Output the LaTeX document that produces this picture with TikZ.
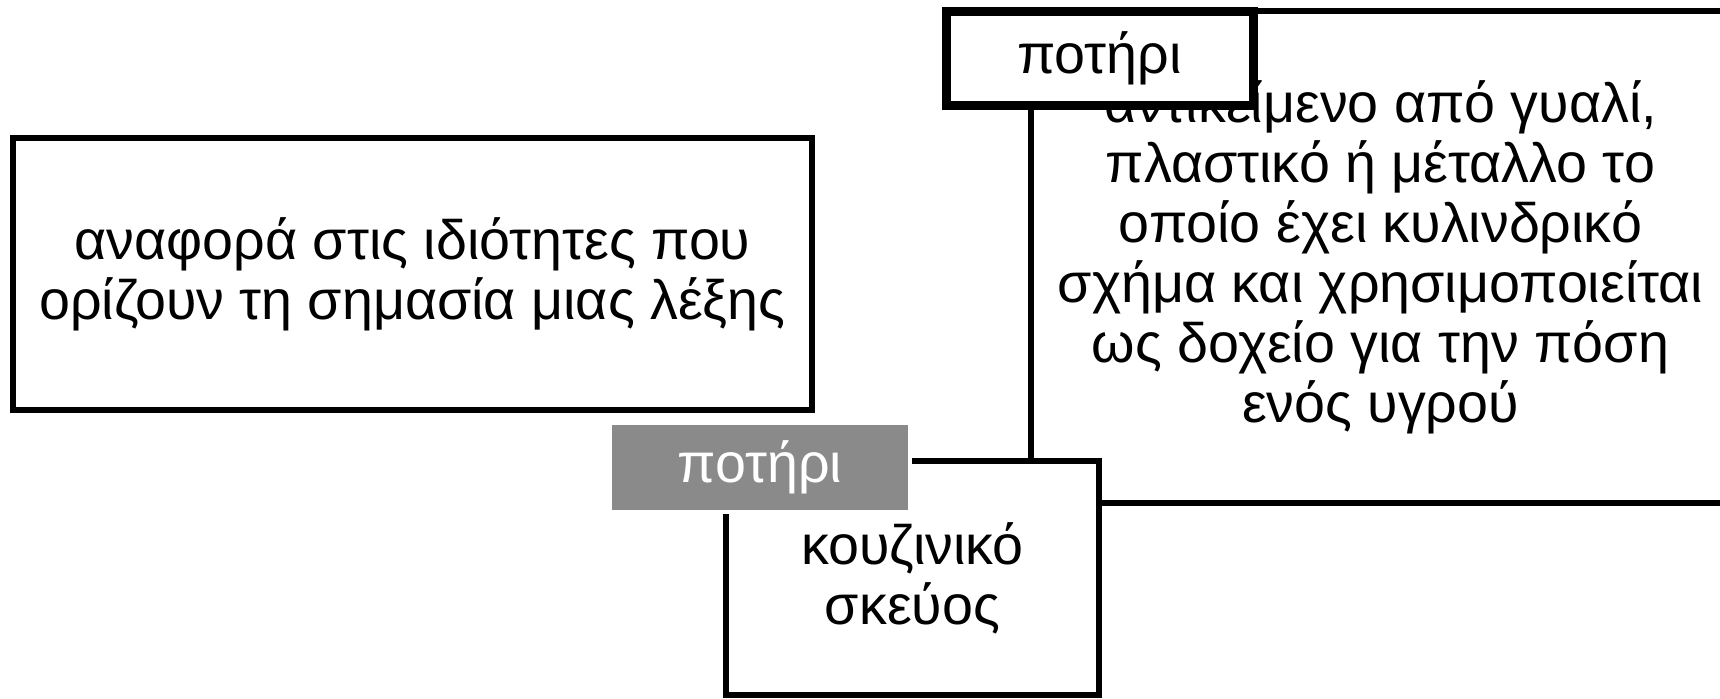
\documentclass[tikz,border=0pt]{standalone}
\usepackage{fontspec}
\setmainfont{Liberation Sans}

\begin{document}
\begin{tikzpicture}[x=0.5pt, y=-0.5pt,
        box/.style={draw, line width=2.75pt, fill=white, align=center, inner sep=0pt, font=\fontsize{27.8}{30}\selectfont},
        tag/.style={fill=black!46, draw=white, line width=2pt, text=white, inner sep=0pt, font=\fontsize{27.8}{30}\selectfont}]
        \useasboundingbox (0,0) rectangle (1720,698);
        \clip (0,0) rectangle (1720,698);

        \node[box, minimum width=399.5pt, minimum height=136pt] (sense) at (412.5, 274) {αναφορά στις ιδιότητες που\\ορίζουν τη σημασία μιας λέξης};

        \node[box, minimum width=349.5pt, minimum height=246pt] (gloss) at (1380.5, 257) {αντικείμενο από γυαλί,\\πλαστικό ή μέταλλο το\\οποίο έχει κυλινδρικό\\σχήμα και χρησιμοποιείται\\ως δοχείο για την πόση\\ενός υγρού};
        \node[box, line width=4.5pt, minimum width=153.5pt, minimum height=47pt] (word) at (1099.5, 58) {ποτήρι};

        \node[box, minimum width=186.5pt, minimum height=117pt] (genus) at (912.5, 578) {κουζινικό\\σκεύος};
        \node[tag, minimum width=150pt, minimum height=44.5pt] (label) at (760, 467.5) {ποτήρι};
\end{tikzpicture}
\end{document}
